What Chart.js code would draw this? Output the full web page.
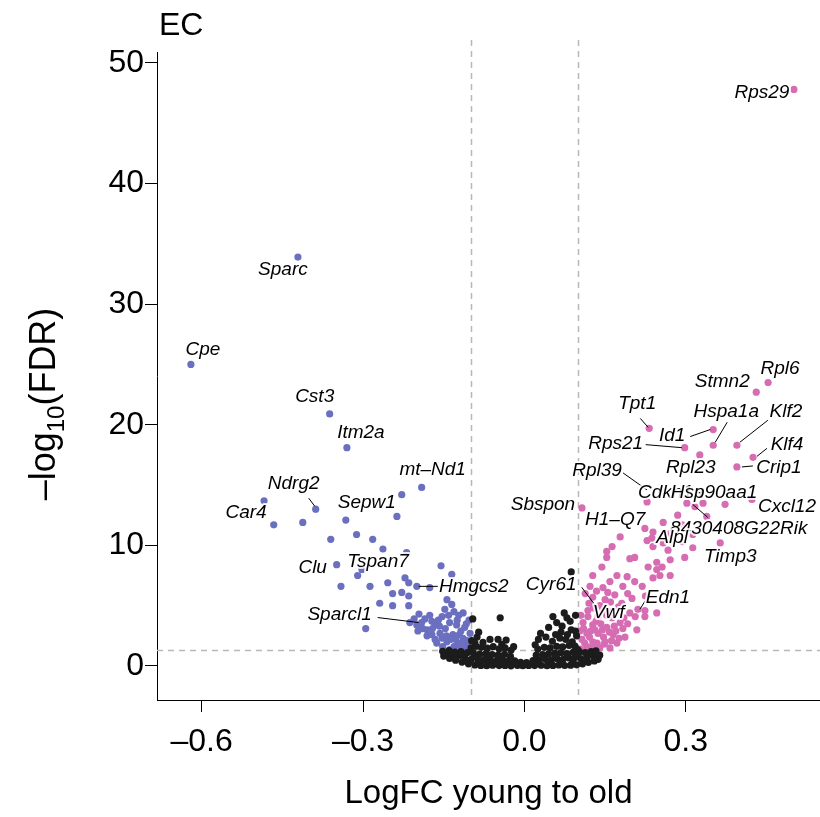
<!DOCTYPE html>
<html><head><meta charset="utf-8">
<script src="https://cdn.jsdelivr.net/npm/chart.js@4.4.1/dist/chart.umd.min.js"></script>
<style>html,body{margin:0;padding:0;background:#fff}canvas{display:block}</style>
</head><body>
<canvas id="c" width="820" height="817"></canvas>
<script>
const panelTitle = 'EC';
const xTitle = 'LogFC young to old';
const yTitleParts = ['\u2013log', '10', '(FDR)'];
const xTicks = [-0.6, -0.3, 0, 0.3];
const yTicks = [0, 10, 20, 30, 40, 50];
const logFCCutoff = 0.1;
const fdrCutoff = 1.3;

// down-regulated (blue) genes: [logFC, -log10 FDR]
const downGenes = [
 [-0.421,33.9],[-0.620,25.0],[-0.362,20.9],[-0.330,18.1],[-0.191,14.8],[-0.228,14.2],[-0.484,13.7],[-0.388,13.0],
 [-0.237,12.4],[-0.332,12.1],[-0.466,11.7],[-0.412,11.9],[-0.312,10.9],[-0.360,10.5],[-0.282,10.5],[-0.263,9.7],
 [-0.219,9.4],[-0.349,8.4],[-0.302,8.0],[-0.310,7.5],[-0.155,8.3],[-0.135,7.6],[-0.341,6.6],[-0.287,6.6],
 [-0.254,6.9],[-0.222,7.3],[-0.215,6.9],[-0.200,6.6],[-0.245,6.0],[-0.228,6.1],[-0.215,5.8],[-0.176,6.5],
 [-0.269,5.2],[-0.245,5.0],[-0.215,5.0],[-0.144,5.5],[-0.135,5.1],[-0.295,3.1],[-0.176,4.2],[-0.153,4.1],
 [-0.139,3.6],[-0.122,4.2],[-0.111,3.2],[-0.191,3.6],[-0.166,3.4],[-0.181,3.0],[-0.157,2.7],[-0.133,2.6],
 [-0.114,2.3],[-0.166,2.2],[-0.144,2.0],[-0.126,1.7],[-0.107,1.7],[-0.152,1.6],[-0.139,1.35],[-0.163,1.9],
 [-0.200,3.4],[-0.189,3.1],[-0.213,3.6],[-0.101,2.7],[-0.103,3.8],[-0.114,4.4],[-0.198,2.9],[-0.181,2.5],
 [-0.172,2.6],[-0.128,2.2],[-0.119,1.9],[-0.110,1.45],[-0.118,2.9],[-0.126,3.4],[-0.147,3.1],[-0.160,3.8],
 [-0.131,4.5],[-0.148,4.7],[-0.104,1.5],[-0.106,2.1],
 [-0.205,3.9],[-0.196,4.3],[-0.185,3.9],[-0.172,3.7],[-0.158,3.3],[-0.145,2.5],[-0.137,2.2],[-0.121,2.6],
 [-0.112,2.0],[-0.131,1.6],[-0.117,1.4],[-0.153,2.3],[-0.171,3.1],[-0.141,4.2],[-0.125,3.8],[-0.108,3.5]
];

// up-regulated (pink) genes
const upGenes = [
 [0.501,47.8],[0.453,23.5],[0.431,22.7],[0.232,19.7],[0.351,19.6],[0.351,18.3],[0.395,18.3],[0.298,18.1],
 [0.326,17.5],[0.425,17.3],[0.395,16.5],[0.228,13.6],[0.302,13.5],[0.332,13.5],[0.373,13.4],[0.423,13.8],
 [0.107,13.1],[0.339,12.4],[0.285,12.5],[0.317,13.2],[0.258,11.9],[0.224,11.4],[0.293,11.7],[0.239,11.1],
 [0.178,10.7],[0.313,10.9],[0.228,10.4],[0.163,9.9],[0.364,10.2],[0.153,9.5],[0.258,10.2],[0.271,11.0],
 [0.237,10.6],[0.274,10.4],[0.294,10.3],[0.313,9.8],[0.239,9.9],[0.267,9.6],[0.298,9.0],[0.196,8.9],
 [0.153,9.0],[0.271,8.8],[0.230,8.2],[0.246,8.0],[0.256,8.2],[0.271,7.5],[0.239,7.3],[0.252,7.5],
 [0.144,8.2],[0.127,7.5],[0.172,7.5],[0.191,7.4],[0.159,7.0],[0.205,7.0],[0.219,6.6],[0.183,6.6],
 [0.146,6.5],[0.122,6.6],[0.168,5.9],[0.192,6.0],[0.150,5.5],[0.127,5.7],[0.181,5.2],[0.211,4.7],
 [0.246,4.4],[0.206,4.1],[0.224,4.1],[0.118,4.6],[0.159,4.5],[0.153,4.2],[0.137,4.1],[0.178,3.6],
 [0.192,3.5],[0.109,3.6],[0.127,3.4],[0.153,3.2],[0.209,3.0],[0.116,2.7],[0.137,2.7],[0.165,2.6],
 [0.187,2.4],[0.107,2.2],[0.127,2.0],[0.150,2.0],[0.172,1.9],[0.116,1.6],[0.140,1.5],[0.159,1.5],
 [0.246,8.6],[0.205,9.0],[0.224,4.6],[0.104,1.4],[0.112,1.9],[0.121,2.4],[0.131,3.0],[0.142,3.5],
 [0.103,2.9],[0.110,3.1],[0.135,1.9],[0.147,2.4],[0.170,2.9],[0.183,3.1],[0.163,4.0],[0.196,4.4],
 [0.175,4.9],[0.140,5.0],[0.120,5.2],[0.105,4.2],[0.113,6.0],[0.134,6.2],[0.155,6.1],[0.200,5.6],[0.225,5.8],
 [0.119,1.45],[0.128,1.7],[0.148,1.8],[0.162,2.1],[0.176,2.3],[0.123,2.9],[0.145,3.0],[0.158,2.8],
 [0.133,3.7],[0.118,4.1],[0.146,4.6],[0.167,3.3],[0.185,4.0],[0.128,4.8],[0.160,5.3]
];

// not significant (black) genes
const nsGenes = [
 [-0.150,0.82],[-0.139,0.62],[-0.128,0.48],[-0.116,0.32],[-0.104,0.18],[-0.092,0.08],[-0.081,0.05],[-0.070,0.02],
 [-0.059,0.06],[-0.047,0.03],[-0.036,0.05],[-0.025,0.01],[-0.013,0.04],[-0.003,0.02],[0.008,0.05],[0.019,0.03],
 [0.031,0.06],[0.042,0.02],[0.053,0.05],[0.064,0.08],[0.075,0.04],[0.086,0.07],[0.097,0.10],[0.108,0.18],
 [0.119,0.30],[0.130,0.42],[0.137,0.55],
 [-0.145,1.05],[-0.133,0.95],[-0.122,0.85],[-0.111,0.70],[-0.099,0.55],[-0.087,0.60],[-0.075,0.50],[-0.064,0.56],
 [-0.052,0.45],[-0.041,0.52],[-0.030,0.40],[-0.018,0.42],[-0.007,0.30],[0.004,0.28],[0.016,0.45],[0.027,0.46],
 [0.039,0.55],[0.050,0.50],[0.061,0.60],[0.072,0.55],[0.083,0.66],[0.094,0.70],[0.105,0.60],[0.117,0.75],
 [0.128,0.85],[0.140,0.90],
 [-0.152,1.22],[-0.140,1.28],[-0.129,1.15],[-0.118,1.20],[-0.106,1.10],[-0.095,1.08],[-0.083,0.98],[-0.071,1.05],
 [-0.060,0.95],[-0.049,0.90],[-0.037,0.96],[-0.026,0.80],[0.022,0.90],[0.034,0.95],[0.045,1.00],[0.057,1.05],
 [0.068,1.10],[0.079,1.02],[0.091,1.15],[0.102,1.20],[0.113,1.10],[0.124,1.20],[0.133,1.25],
 [-0.099,1.50],[-0.090,1.62],[-0.080,1.55],[-0.069,1.48],[-0.058,1.60],[-0.047,1.42],[-0.036,1.50],[-0.025,1.30],
 [0.025,1.40],[0.037,1.55],[0.048,1.50],[0.060,1.62],[0.071,1.58],[0.083,1.70],[0.094,1.65],[0.099,1.35],
 [-0.098,2.10],[-0.088,2.40],[-0.077,1.95],[-0.064,2.20],[-0.049,2.20],[-0.034,2.15],[-0.042,1.80],[-0.020,1.60],
 [0.020,1.75],[0.026,2.20],[0.040,2.40],[0.052,2.05],[0.066,2.30],[0.077,2.20],[0.089,2.00],[0.097,2.50],[-0.092,1.90],
 [-0.096,3.9],[-0.045,4.0],[0.053,4.1],[0.074,4.4],[0.079,4.0],[0.060,3.6],[0.045,3.2],[0.068,2.8],[0.087,3.0],
 [0.087,7.8],[0.030,2.7],[0.058,2.6],[0.080,2.6],[0.095,2.9],[0.070,3.3],[0.085,3.7],[0.095,4.2],[-0.085,2.8],
 [-0.086,0.30],[-0.064,0.25],[-0.042,0.28],[-0.020,0.20],[0.000,0.12],[0.024,0.22],[0.046,0.30],[0.068,0.32],
 [0.090,0.38],[0.112,0.50],[-0.108,0.45],[-0.130,0.75],[-0.093,0.85],[-0.070,0.78],[-0.045,0.70],[0.035,0.75],
 [0.058,0.82],[0.080,0.88],[0.100,0.95],[0.122,1.00],[-0.115,0.95],[-0.138,1.10]
];

// labelled genes: [gene, logFC, -log10 FDR]
const geneLabels = [
 ['Rps29',0.501,47.8],['Sparc',-0.421,33.9],['Cpe',-0.620,25.0],['Cst3',-0.362,20.9],['Itm2a',-0.330,18.1],
 ['mt\u2013Nd1',-0.191,14.8],['Ndrg2',-0.388,13.0],['Sepw1',-0.332,12.1],['Car4',-0.484,13.7],['Clu',-0.349,8.4],
 ['Tspan7',-0.302,8.0],['Hmgcs2',-0.200,6.6],['Sparcl1',-0.191,3.6],['Tpt1',0.232,19.7],['Stmn2',0.431,22.7],
 ['Rpl6',0.453,23.5],['Hspa1a',0.351,18.3],['Klf2',0.395,18.3],['Id1',0.351,19.6],['Rps21',0.298,18.1],
 ['Rpl23',0.326,17.5],['Klf4',0.425,17.3],['Crip1',0.395,16.5],['Rpl39',0.228,13.6],['Cdkn1a',0.302,13.5],
 ['Hsp90aa1',0.332,13.5],['Cxcl12',0.423,13.8],['Sbspon',0.107,13.1],['H1\u2013Q7',0.178,10.7],
 ['8430408G22Rik',0.339,12.4],['Alpl',0.271,11.0],['Timp3',0.364,10.2],['Cyr61',0.087,7.8],['Vwf',0.153,4.2],['Edn1',0.211,4.7]
];
// label placement (pixel offsets from the point): [dx, dy, leaderX1, leaderY1, leaderX2, leaderY2]
const labelLayout = {
 'Rps29':[-32,3],'Sparc':[-15,13],'Cpe':[12,-15],'Cst3':[-15,-17],'Itm2a':[14,-15],'mt\u2013Nd1':[11,-18],
 'Ndrg2':[-22,-25,-7,-11,-1,-3],'Sepw1':[21,-17],'Car4':[-18,12],'Clu':[-24,3],'Tspan7':[16,-8],
 'Hmgcs2':[57,0,2,0,21,0],'Sparcl1':[-82,-8,-44,-5,-3,0],'Tpt1':[-12,-25,-9,-10,-1,-1],'Stmn2':[-34,-10],
 'Rpl6':[12,-14],'Hspa1a':[13,-34,14,-23,2,-3],'Klf2':[49,-34,31,-25,3,-3],'Id1':[-41,6,-23,7,-3,0],
 'Rps21':[-69,-4,-39,-3,-3,0],'Rpl23':[-9,13],'Klf4':[34,-13,14,-9,4,-1],'Crip1':[42,1,5,0,16,-1],
 'Rpl39':[-50,-31,-24,-29,0,-12],'Cdkn1a':[-16,-10],'Hsp90aa1':[11,-10],'Cxcl12':[35,7],'Sbspon':[-39,-3],
 'H1\u2013Q7':[-5,-17],'8430408G22Rik':[32,12,-14,-12,1,1],'Alpl':[2,4],'Timp3':[10,14],'Cyr61':[-20,13],
 'Vwf':[2,-3,-25,-28,-10,-8],'Edn1':[30,-12,7,-8,2,0]
};

const FONT = 'Liberation Sans';
const toPts = a => a.map(([x, y]) => ({x, y}));

const refLines = {
  id: 'refLines',
  beforeDatasetsDraw(chart) {
    const {ctx, chartArea: a, scales: {x, y}} = chart;
    ctx.save();
    ctx.strokeStyle = '#b8b8b8';
    ctx.lineWidth = 1.5;
    ctx.setLineDash([6, 5]);
    [-logFCCutoff, logFCCutoff].forEach(v => {
      const px = Math.round(x.getPixelForValue(v)) + 0.5;
      ctx.beginPath(); ctx.moveTo(px, a.top - 12); ctx.lineTo(px, a.bottom); ctx.stroke();
    });
    const py = Math.round(y.getPixelForValue(fdrCutoff)) + 0.5;
    ctx.beginPath(); ctx.moveTo(a.left, py); ctx.lineTo(a.right, py); ctx.stroke();
    ctx.restore();
  }
};

const labelPlugin = {
  id: 'geneLabels',
  afterDatasetsDraw(chart) {
    const {ctx, scales: {x, y}} = chart;
    ctx.save();
    ctx.strokeStyle = '#000';
    ctx.lineWidth = 1;
    geneLabels.forEach(([g, vx, vy]) => {
      const L = labelLayout[g];
      if (L.length > 2) {
        const px = x.getPixelForValue(vx), py = y.getPixelForValue(vy);
        ctx.beginPath(); ctx.moveTo(px + L[2], py + L[3]); ctx.lineTo(px + L[4], py + L[5]); ctx.stroke();
      }
    });
    ctx.font = 'italic 19px "' + FONT + '"';
    ctx.textAlign = 'center';
    ctx.textBaseline = 'middle';
    ctx.lineJoin = 'round';
    geneLabels.forEach(([g, vx, vy]) => {
      const L = labelLayout[g];
      const px = x.getPixelForValue(vx) + L[0], py = y.getPixelForValue(vy) + L[1];
      ctx.lineWidth = 4;
      ctx.strokeStyle = 'rgba(255,255,255,0.85)';
      ctx.strokeText(g, px, py);
      ctx.fillStyle = '#000';
      ctx.fillText(g, px, py);
    });
    ctx.restore();
  }
};

const titles = {
  id: 'titles',
  afterDraw(chart) {
    const {ctx, chartArea: a} = chart;
    ctx.save();
    ctx.fillStyle = '#000';
    ctx.font = '32px "' + FONT + '"';
    ctx.textAlign = 'left';
    ctx.textBaseline = 'alphabetic';
    ctx.fillText(panelTitle, a.left + 2, 35);
    // y axis title with subscript
    const big = '36px "' + FONT + '"', small = '24px "' + FONT + '"';
    ctx.font = big; const w1 = ctx.measureText(yTitleParts[0]).width, w3 = ctx.measureText(yTitleParts[2]).width;
    ctx.font = small; const w2 = ctx.measureText(yTitleParts[1]).width;
    const total = w1 + w2 + w3;
    ctx.translate(55, 404);
    ctx.rotate(-Math.PI / 2);
    let cx = -total / 2;
    ctx.font = big; ctx.fillText(yTitleParts[0], cx, 0); cx += w1;
    ctx.font = small; ctx.fillText(yTitleParts[1], cx, 9); cx += w2;
    ctx.font = big; ctx.fillText(yTitleParts[2], cx, 0);
    ctx.restore();
  }
};

const tickFont = {family: FONT, size: 32};
new Chart(document.getElementById('c'), {
  type: 'scatter',
  data: {datasets: [
    {label: 'NS', data: toPts(nsGenes), backgroundColor: '#1c1c1c', pointRadius: 3.6, borderWidth: 0},
    {label: 'Down', data: toPts(downGenes), backgroundColor: '#6b6fc0', pointRadius: 3.6, borderWidth: 0},
    {label: 'Up', data: toPts(upGenes), backgroundColor: '#d66db3', pointRadius: 3.6, borderWidth: 0}
  ]},
  options: {
    responsive: false, animation: false, devicePixelRatio: 1,
    layout: {autoPadding: false, padding: {top: 52, left: 0, right: 0, bottom: 0}},
    plugins: {legend: {display: false}, tooltip: {enabled: false}},
    scales: {
      x: {
        type: 'linear', min: -0.683, max: 0.5495,
        afterFit(s) { s.height = 117; },
        afterBuildTicks(s) { s.ticks = xTicks.map(v => ({value: v})); },
        ticks: {font: tickFont, color: '#000', padding: 11, maxRotation: 0, autoSkip: false,
          callback: v => (v < 0 ? '\u2013' : '') + Math.abs(v).toFixed(1)},
        grid: {drawOnChartArea: false, tickLength: 12, color: '#000', lineWidth: 1},
        border: {display: true, color: '#000', width: 1},
        title: {display: true, text: xTitle, font: {family: FONT, size: 33}, color: '#000', padding: {top: 0, bottom: 3}}
      },
      y: {
        type: 'linear', min: -2.82, max: 50.9,
        afterFit(s) { s.width = 157; },
        afterBuildTicks(s) { s.ticks = yTicks.map(v => ({value: v})); },
        ticks: {font: tickFont, color: '#000', padding: 1, autoSkip: false},
        grid: {drawOnChartArea: false, tickLength: 12, color: '#000', lineWidth: 1},
        border: {display: true, color: '#000', width: 1}
      }
    }
  },
  plugins: [refLines, labelPlugin, titles]
});
</script>
</body></html>
